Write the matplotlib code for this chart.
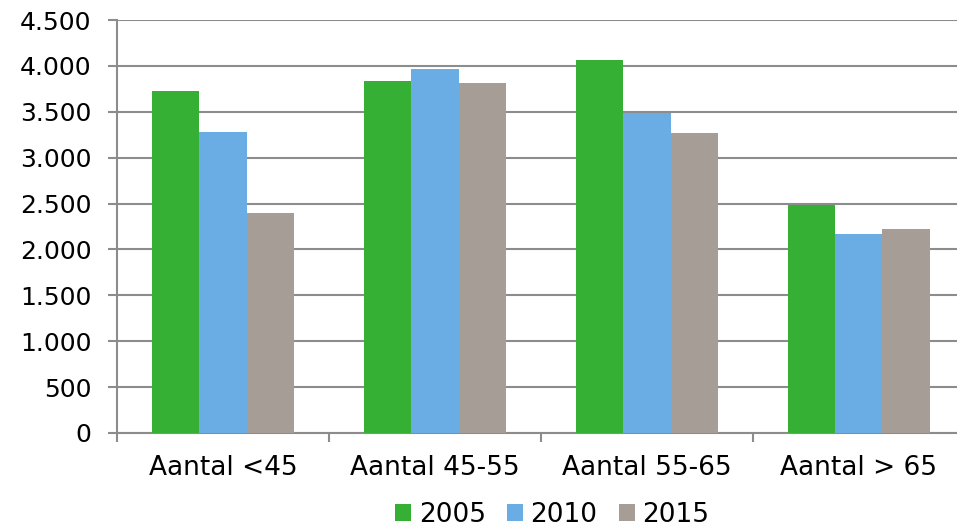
import numpy as np
import matplotlib.pyplot as plt
from matplotlib.ticker import FuncFormatter

categories = ['Aantal <45', 'Aantal 45-55', 'Aantal 55-65', 'Aantal > 65']
years = ['2005', '2010', '2015']
v2005 = [3725, 3835, 4065, 2485]
v2010 = [3275, 3965, 3485, 2165]
v2015 = [2395, 3815, 3265, 2225]
colors = ['#35b035', '#6aade4', '#a69d97']

fig = plt.figure(figsize=(9.57, 5.28), dpi=100)
ax = fig.add_axes([0.1223, 0.18, 0.886, 0.782])

x = np.arange(len(categories))
w = 0.222
for i, (vals, lab) in enumerate(zip([v2005, v2010, v2015], years)):
    ax.bar(x + (i - 1) * w, vals, w, color=colors[i], label=lab, zorder=3)

ax.set_xlim(-0.5, len(categories) - 0.5)
ax.set_ylim(0, 4500)
ax.set_yticks(np.arange(0, 4501, 500))
ax.yaxis.set_major_formatter(FuncFormatter(lambda v, p: f'{int(v):,}'.replace(',', '.')))
ax.grid(axis='y', color='#8c8c8c', linewidth=1.5, zorder=0)

ax.set_xticks(x)
ax.set_xticklabels(categories)
ax.set_xticks(np.arange(-0.5, len(categories)), minor=True)
ax.tick_params(axis='x', which='major', length=0, pad=16, labelsize=19)
ax.tick_params(axis='x', which='minor', length=6.5, width=1.5, color='#8c8c8c')
ax.tick_params(axis='y', length=6.5, width=1.5, color='#8c8c8c', labelsize=18, pad=12)

for s in ['top', 'right']:
    ax.spines[s].set_visible(False)
for s in ['left', 'bottom']:
    ax.spines[s].set_color('#8c8c8c')
    ax.spines[s].set_linewidth(1.5)

fig.legend(loc='lower center', bbox_to_anchor=(0.577, -0.045), ncol=3, frameon=False,
           fontsize=19, handlelength=0.6, handleheight=0.6, handletextpad=0.3,
           columnspacing=0.8)

fig.savefig('out.png', dpi=100)
